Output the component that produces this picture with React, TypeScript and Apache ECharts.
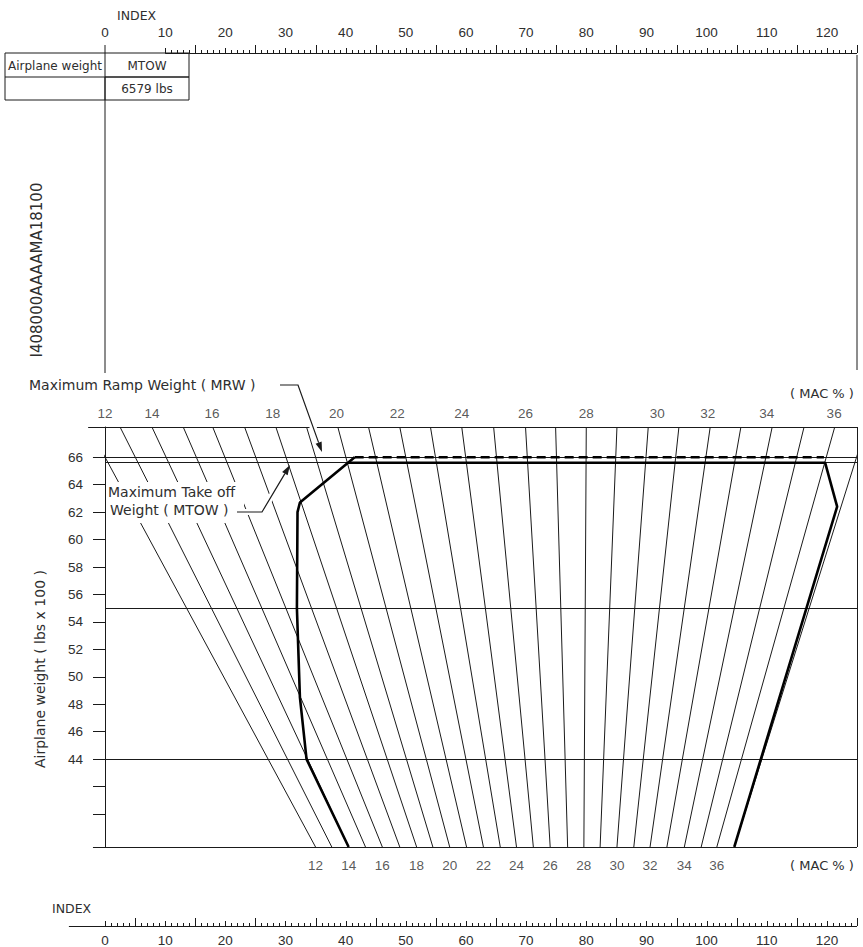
import React, { useEffect, useRef } from "react";
import * as echarts from "echarts";

// ---------- data ----------
const MAC_VALUES = [12, 13, 14, 15, 16, 17, 18, 19, 20, 21, 22, 23, 24, 25, 26, 27, 28, 29, 30, 31, 32, 33, 34, 35, 36, 37];
// index where each %MAC line meets the top edge (weight max) and bottom edge (weight min)
const MAC_TOP_INDEX = [-2.7, 2.5, 7.8, 13.0, 17.9, 23.2, 28.4, 33.5, 38.7, 43.8, 49.0, 54.1, 59.3, 64.6, 69.9, 74.9, 80.0, 85.1, 90.3, 95.4, 100.6, 105.7, 110.9, 116.2, 121.3, 126.5];
const MAC_BOTTOM_INDEX = [35.0, 37.7, 40.5, 43.3, 46.1, 49.0, 51.8, 54.5, 57.3, 60.1, 62.9, 65.7, 68.4, 71.2, 74.0, 76.9, 79.6, 82.3, 85.1, 87.9, 90.6, 93.4, 96.3, 99.1, 101.7, 104.6];

const MAC_TOP_LABELS = ["12", "14", "16", "18", "20", "22", "24", "26", "28", "30", "32", "34", "36"];
const MAC_TOP_LABEL_INDEX = [0, 7.8, 17.8, 27.9, 38.5, 48.6, 59.3, 69.9, 80.0, 91.8, 100.2, 110.0, 121.2];
const MAC_BOTTOM_LABELS = ["12", "14", "16", "18", "20", "22", "24", "26", "28", "30", "32", "34", "36"];
const MAC_BOTTOM_LABEL_INDEX = [35.0, 40.5, 46.1, 51.8, 57.3, 62.9, 68.4, 74.0, 79.6, 85.1, 90.6, 96.3, 101.7];

const WEIGHT_MIN = 37.6;
const WEIGHT_MAX = 68.2;
const WEIGHT_TICKS = [40, 42, 44, 46, 48, 50, 52, 54, 56, 58, 60, 62, 64, 66];
const WEIGHT_LABELS = [44, 46, 48, 50, 52, 54, 56, 58, 60, 62, 64, 66];
const MRW_WEIGHT = 66;
const MTOW_WEIGHT = 65.6;
const REF_WEIGHTS = [55, 44];

const INDEX_LABELS = [0, 10, 20, 30, 40, 50, 60, 70, 80, 90, 100, 110, 120];
const INDEX_MAX = 125;
const TOP_RULER_START = 10;
const BOTTOM_RULER_START = -6;

// envelope (index, weight)
const ENVELOPE_LEFT = [[40.5, 37.6], [33.5, 44.0], [32.4, 48.5], [31.9, 55.0], [32.0, 62.0], [32.4, 62.7], [41.5, 66.0]];
const ENVELOPE_MTOW = [[40.4, 65.6], [119.7, 65.6], [121.7, 62.4], [104.6, 37.6]];
const ENVELOPE_MRW = [[41.5, 66.0], [119.5, 66.0]];

const TABLE_HEAD = ["Airplane weight", "MTOW"];
const TABLE_VALUE = "6579 lbs";

// ---------- style ----------
const LINE = "#1a1a1a";
const TEXT = "#2e2e2e";
const FONT = "DejaVu Sans";
const NUM_FONT = "Liberation Sans";

const intRange = (a: number, b: number) => {
  const r: number[] = [];
  for (let i = a; i <= b; i++) r.push(i);
  return r;
};

// tick length (px) by index value: tall at 5+10k, medium at 10k, small otherwise
const tickLen = (v: number) => (v % 10 === 5 ? 8 : v % 10 === 0 ? 5 : 3);

function arrowHead(tip: number[], from: number[], len = 10, half = 3.2) {
  const dx = tip[0] - from[0];
  const dy = tip[1] - from[1];
  const L = Math.hypot(dx, dy);
  const ux = dx / L, uy = dy / L;
  const bx = tip[0] - ux * len, by = tip[1] - uy * len;
  return {
    head: [[tip[0], tip[1]], [bx - uy * half, by + ux * half], [bx + uy * half, by - ux * half]],
    base: [bx, by],
  };
}

function rulerTicks(xAxisIndex: number, yAxisIndex: number, values: number[], yVal: number) {
  return {
    type: "custom",
    name: "ruler ticks",
    coordinateSystem: "cartesian2d",
    xAxisIndex,
    yAxisIndex,
    clip: false,
    silent: true,
    data: values.map((v) => [v, yVal]),
    renderItem: (_params: any, api: any) => {
      const v = api.value(0);
      const p = api.coord([v, api.value(1)]);
      const x = Math.round(p[0]) + 0.5;
      const len = tickLen(v);
      return {
        type: "line",
        shape: { x1: x, y1: p[1], x2: x, y2: p[1] - len },
        style: { stroke: LINE, lineWidth: 1 },
      };
    },
  };
}

export default function App() {
  const ref = useRef<HTMLDivElement>(null);

  useEffect(() => {
    if (!ref.current) return;
    const chart = echarts.init(ref.current, undefined, { renderer: "svg" });

    const macLines = MAC_VALUES.map((m, i) => ({
      name: String(m),
      coords: [[MAC_TOP_INDEX[i], WEIGHT_MAX], [MAC_BOTTOM_INDEX[i], WEIGHT_MIN]],
    }));

    const frameLines = [
      { coords: [[-2.8, WEIGHT_MAX], [INDEX_MAX, WEIGHT_MAX]] },
      { coords: [[-2, WEIGHT_MIN], [INDEX_MAX, WEIGHT_MIN]] },
      { coords: [[INDEX_MAX, WEIGHT_MIN], [INDEX_MAX, WEIGHT_MAX]] },
      { coords: [[-2, MRW_WEIGHT], [INDEX_MAX, MRW_WEIGHT]] },
      { coords: [[0, MTOW_WEIGHT], [INDEX_MAX, MTOW_WEIGHT]] },
      ...REF_WEIGHTS.map((w) => ({ coords: [[0, w], [INDEX_MAX, w]] })),
    ];

    const mrwLeader = [[280, 385], [298, 385], [322, 452]];
    const mrwArrow = arrowHead(mrwLeader[2], mrwLeader[1]);
    const mtowLeader = [[237, 512], [262, 512], [290, 465]];
    const mtowArrow = arrowHead(mtowLeader[2], mtowLeader[1]);

    const textStyle = (text: string, size: number, align = "left", vAlign = "middle", family = FONT) => ({
      text,
      fontSize: size,
      fontFamily: family,
      fill: TEXT,
      align,
      verticalAlign: vAlign,
    });

    const graphic: any[] = [
      // top panel verticals
      { type: "line", z: 50, shape: { x1: 105, y1: 45, x2: 105, y2: 373 }, style: { stroke: LINE, lineWidth: 1 } },
      { type: "line", z: 50, shape: { x1: 857, y1: 55, x2: 857, y2: 370 }, style: { stroke: LINE, lineWidth: 1 } },
      // table
      { type: "rect", z: 50, shape: { x: 5, y: 53, width: 184, height: 24 }, style: { fill: "none", stroke: LINE, lineWidth: 1 } },
      { type: "rect", z: 50, shape: { x: 105, y: 77, width: 84, height: 23 }, style: { fill: "none", stroke: LINE, lineWidth: 1 } },
      { type: "line", z: 50, shape: { x1: 5, y1: 100, x2: 105, y2: 100 }, style: { stroke: LINE, lineWidth: 1 } },
      { type: "line", z: 50, shape: { x1: 5, y1: 77, x2: 5, y2: 100 }, style: { stroke: LINE, lineWidth: 1 } },
      { type: "text", z: 51, x: 55, y: 65.5, style: textStyle(TABLE_HEAD[0], 12, "center") },
      { type: "text", z: 51, x: 147, y: 65.5, style: textStyle(TABLE_HEAD[1], 12, "center") },
      { type: "text", z: 51, x: 147, y: 88.5, style: textStyle(TABLE_VALUE, 12, "center") },
      // index titles
      { type: "text", z: 51, x: 117, y: 15, style: textStyle("INDEX", 12.5) },
      { type: "text", z: 51, x: 52, y: 908, style: textStyle("INDEX", 12.5) },
      // vertical document code
      { type: "text", z: 51, x: 37, y: 270, rotation: Math.PI / 2, style: textStyle("I408000AAAAMA18100", 15, "center") },
      // y axis title
      { type: "text", z: 51, x: 40, y: 669, rotation: Math.PI / 2, style: textStyle("Airplane weight ( lbs x 100 )", 14, "center") },
      // MAC % captions
      { type: "text", z: 51, x: 822, y: 393, style: textStyle("( MAC % )", 13, "center") },
      { type: "text", z: 51, x: 822, y: 865, style: textStyle("( MAC % )", 13, "center") },
      // MRW annotation
      { type: "text", z: 51, x: 29, y: 385, style: textStyle("Maximum Ramp Weight ( MRW )", 14) },
      { type: "polyline", z: 52, shape: { points: [mrwLeader[0], mrwLeader[1], mrwArrow.base] }, style: { stroke: "#fff", lineWidth: 7, fill: "none" } },
      { type: "polyline", z: 53, shape: { points: [mrwLeader[0], mrwLeader[1], mrwArrow.base] }, style: { stroke: LINE, lineWidth: 1.2, fill: "none" } },
      { type: "polygon", z: 53, shape: { points: mrwArrow.head }, style: { fill: LINE } },
      // MTOW annotation
      { type: "rect", z: 50, shape: { x: 106, y: 482, width: 138, height: 41 }, style: { fill: "#fff" } },
      { type: "text", z: 51, x: 108, y: 492, style: textStyle("Maximum Take off", 14) },
      { type: "text", z: 51, x: 110, y: 510, style: textStyle("Weight ( MTOW )", 14) },
      { type: "polyline", z: 52, shape: { points: [mtowLeader[0], mtowLeader[1], mtowArrow.base] }, style: { stroke: "#fff", lineWidth: 6, fill: "none" } },
      { type: "polyline", z: 53, shape: { points: [mtowLeader[0], mtowLeader[1], mtowArrow.base] }, style: { stroke: LINE, lineWidth: 1.2, fill: "none" } },
      { type: "polygon", z: 53, shape: { points: mtowArrow.head }, style: { fill: LINE } },
    ];

    const labelAxis = (gridIndex: number, position: string, margin: number) => ({
      type: "value",
      gridIndex,
      position,
      min: 0,
      max: INDEX_MAX,
      axisLine: { show: false },
      axisTick: { show: false },
      splitLine: { show: false },
      axisLabel: { show: true, customValues: INDEX_LABELS, margin, fontSize: 13.5, fontFamily: NUM_FONT, color: TEXT },
    });

    const numLabel = { fontSize: 13.5, fontFamily: NUM_FONT, color: TEXT };

    const option: any = {
      animation: false,
      backgroundColor: "#ffffff",
      grid: [
        { left: 105, right: 6, top: 427, bottom: 100, show: false },
        { left: 105, right: 6, top: 53, height: 317, show: false },
        { left: 105, right: 6, top: 880, bottom: 20, show: false },
      ],
      xAxis: [
        { type: "value", gridIndex: 0, min: 0, max: INDEX_MAX, show: false },
        labelAxis(1, "top", 14),
        labelAxis(2, "bottom", 7),
      ],
      yAxis: [
        {
          type: "value",
          gridIndex: 0,
          min: WEIGHT_MIN,
          max: WEIGHT_MAX,
          axisLine: { show: true, lineStyle: { color: LINE, width: 1 } },
          axisTick: { show: true, customValues: WEIGHT_TICKS, length: 12, lineStyle: { color: LINE, width: 1 } },
          axisLabel: { show: true, customValues: WEIGHT_LABELS, margin: 22, ...numLabel },
          splitLine: { show: false },
        },
        { type: "value", gridIndex: 1, min: 0, max: 1, show: false },
        { type: "value", gridIndex: 2, min: 0, max: 1, show: false },
      ],
      series: [
        {
          type: "lines",
          name: "MAC lines",
          coordinateSystem: "cartesian2d",
          xAxisIndex: 0,
          yAxisIndex: 0,
          clip: true,
          silent: true,
          z: 2,
          lineStyle: { color: LINE, width: 1, opacity: 1 },
          data: macLines,
        },
        {
          type: "lines",
          name: "frame",
          coordinateSystem: "cartesian2d",
          xAxisIndex: 0,
          yAxisIndex: 0,
          clip: false,
          silent: true,
          z: 3,
          lineStyle: { color: LINE, width: 1, opacity: 1 },
          data: frameLines,
        },
        {
          type: "line",
          name: "envelope",
          xAxisIndex: 0,
          yAxisIndex: 0,
          data: ENVELOPE_LEFT,
          symbol: "none",
          clip: false,
          z: 4,
          lineStyle: { color: "#000", width: 2.6 },
        },
        {
          type: "line",
          name: "envelope MTOW",
          xAxisIndex: 0,
          yAxisIndex: 0,
          data: ENVELOPE_MTOW,
          symbol: "none",
          clip: false,
          z: 4,
          lineStyle: { color: "#000", width: 2.6 },
        },
        {
          type: "line",
          name: "envelope MRW",
          xAxisIndex: 0,
          yAxisIndex: 0,
          data: ENVELOPE_MRW,
          symbol: "none",
          clip: false,
          z: 4,
          lineStyle: { color: "#000", width: 2.4, type: [9, 5] },
        },
        {
          type: "scatter",
          name: "MAC top labels",
          xAxisIndex: 0,
          yAxisIndex: 0,
          clip: false,
          symbolSize: 0,
          silent: true,
          data: MAC_TOP_LABELS.map((t, i) => [MAC_TOP_LABEL_INDEX[i], WEIGHT_MAX, t]),
          label: { show: true, position: "top", distance: 7, formatter: (p: any) => p.value[2], ...numLabel },
        },
        {
          type: "scatter",
          name: "MAC bottom labels",
          xAxisIndex: 0,
          yAxisIndex: 0,
          clip: false,
          symbolSize: 0,
          silent: true,
          data: MAC_BOTTOM_LABELS.map((t, i) => [MAC_BOTTOM_LABEL_INDEX[i], WEIGHT_MIN, t]),
          label: { show: true, position: "bottom", distance: 11, formatter: (p: any) => p.value[2], ...numLabel },
        },
        {
          type: "lines",
          name: "top ruler",
          coordinateSystem: "cartesian2d",
          xAxisIndex: 1,
          yAxisIndex: 1,
          clip: false,
          silent: true,
          lineStyle: { color: LINE, width: 1, opacity: 1 },
          data: [{ coords: [[TOP_RULER_START, 1], [INDEX_MAX, 1]] }],
        },
        rulerTicks(1, 1, intRange(TOP_RULER_START, INDEX_MAX), 1),
        {
          type: "lines",
          name: "bottom ruler",
          coordinateSystem: "cartesian2d",
          xAxisIndex: 2,
          yAxisIndex: 2,
          clip: false,
          silent: true,
          lineStyle: { color: LINE, width: 1, opacity: 1 },
          data: [{ coords: [[BOTTOM_RULER_START, 0], [INDEX_MAX, 0]] }],
        },
        rulerTicks(2, 2, intRange(0, INDEX_MAX), 0),
      ],
      graphic,
    };

    chart.setOption(option);
    return () => chart.dispose();
  }, []);

  return <div ref={ref} style={{ position: "fixed", left: 0, top: 0, width: 863, height: 947 }} />;
}
